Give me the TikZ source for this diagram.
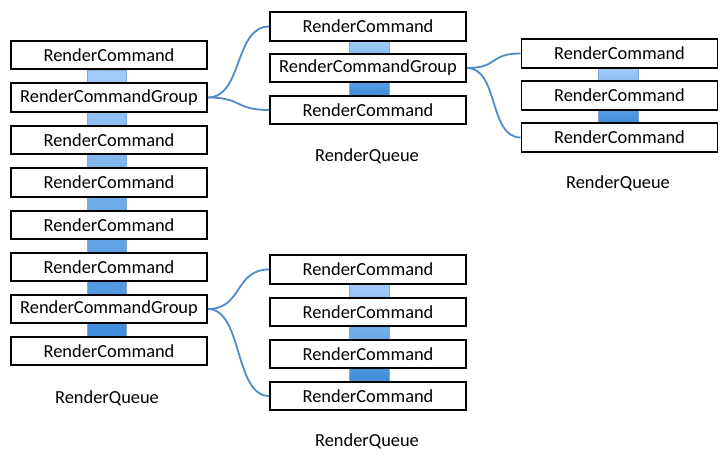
\documentclass[tikz,border=0pt]{standalone}
\usepackage{fontspec}
\setmainfont{Carlito}

\definecolor{barTop}{HTML}{A3CCF8}
\definecolor{barBot}{HTML}{3E8DDB}
\definecolor{barEdge}{HTML}{7FA9D6}
\definecolor{linkBlue}{HTML}{4F8AC9}

\tikzset{
	cmd/.style={draw, line width=1.7pt, fill=white, minimum width=196pt, minimum height=28.5pt, inner sep=0pt, font=\fontsize{18.4}{20}\selectfont},
	queuelbl/.style={font=\fontsize{18.4}{20}\selectfont},
	bar/.style={top color=barTop, bottom color=barBot, draw=barEdge, line width=0.5pt},
	link/.style={draw=linkBlue, line width=1.8pt},
}

\begin{document}
\begin{tikzpicture}[x=1pt,y=-1pt]
				\useasboundingbox (0,0) rectangle (728,457);
				
				% left queue
				\shade[bar] (87,70) rectangle (126,337);
				\node[cmd] (lq1) at (109,55) {RenderCommand};
				\node[cmd] (lq2) at (109,97.5) {RenderCommandGroup};
				\node[cmd] (lq3) at (109,140) {RenderCommand};
				\node[cmd] (lq4) at (109,182.5) {RenderCommand};
				\node[cmd] (lq5) at (109,225) {RenderCommand};
				\node[cmd] (lq6) at (109,267) {RenderCommand};
				\node[cmd] (lq7) at (109,309) {RenderCommandGroup};
				\node[cmd] (lq8) at (109,351) {RenderCommand};
				\node[queuelbl] (lblLeft) at (107,398) {RenderQueue};
				
				% upper middle queue
				\shade[bar] (349,41) rectangle (389,96);
				\node[cmd] (mq1) at (368,26.5) {RenderCommand};
				\node[cmd] (mq2) at (368,68) {RenderCommandGroup};
				\node[cmd] (mq3) at (368,110) {RenderCommand};
				\node[queuelbl] (lblMid) at (367,156) {RenderQueue};
				
				% right queue
				\shade[bar] (598,68) rectangle (638,123);
				\node[cmd] (rq1) at (619.5,53.5) {RenderCommand};
				\node[cmd] (rq2) at (619.5,95.5) {RenderCommand};
				\node[cmd] (rq3) at (619.5,137.5) {RenderCommand};
				\node[queuelbl] (lblRight) at (618,183) {RenderQueue};
				
				% lower middle queue
				\shade[bar] (349,284) rectangle (389,381);
				\node[cmd] (bq1) at (368,269.5) {RenderCommand};
				\node[cmd] (bq2) at (368,312) {RenderCommand};
				\node[cmd] (bq3) at (368,354) {RenderCommand};
				\node[cmd] (bq4) at (368,396) {RenderCommand};
				\node[queuelbl] (lblBottom) at (367,441) {RenderQueue};
				
				% groups to their queues
				\draw[link] (lq2.east) .. controls +(35,0) and +(-35,0) .. (mq1.west);
				\draw[link] (lq2.east) .. controls +(35,0) and +(-35,0) .. (mq3.west);
				\draw[link] (lq7.east) .. controls +(35,0) and +(-35,0) .. (bq1.west);
				\draw[link] (lq7.east) .. controls +(35,0) and +(-35,0) .. (bq4.west);
				\draw[link] (mq2.east) .. controls +(32,0) and +(-32,0) .. (rq1.west);
				\draw[link] (mq2.east) .. controls +(32,0) and +(-32,0) .. (rq3.west);
				
\end{tikzpicture}
\end{document}
